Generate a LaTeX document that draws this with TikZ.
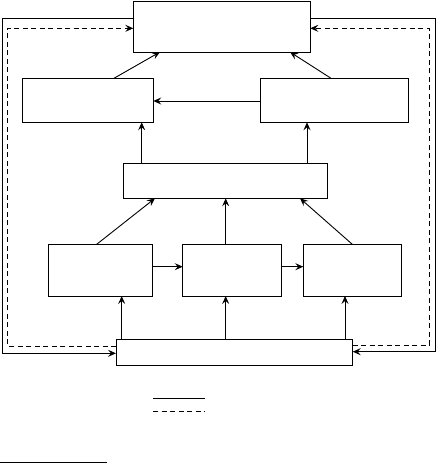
\documentclass[tikz,border=0pt]{standalone}
\usetikzlibrary{arrows.meta}
\begin{document}
\begin{tikzpicture}[x=1pt,y=-1pt,
  box/.style={draw,line width=0.9pt,inner sep=0pt,outer sep=0pt,anchor=north west},
  arr/.style={line width=0.9pt,-{Stealth[length=8pt,width=7pt,inset=3pt]}},
  ln/.style={line width=0.9pt},
  dsh/.style={line width=0.9pt,dash pattern=on 5pt off 3.5pt}]
\useasboundingbox (0,0) rectangle (437,463);
% boxes
\node[box,minimum width=177pt,minimum height=51pt] (top) at (133.3,1) {};
\node[box,minimum width=131.3pt,minimum height=44pt] (lm) at (22,78.3) {};
\node[box,minimum width=148.3pt,minimum height=44pt] (rm) at (260,78.3) {};
\node[box,minimum width=204.4pt,minimum height=35pt] (mid) at (123.3,163.3) {};
\node[box,minimum width=104pt,minimum height=51.7pt] (a) at (48.7,244.3) {};
\node[box,minimum width=99pt,minimum height=51.7pt] (b) at (182.7,244.3) {};
\node[box,minimum width=98.4pt,minimum height=51.7pt] (c) at (303.3,244.3) {};
\node[box,minimum width=236.7pt,minimum height=26.4pt] (bot) at (116,339.3) {};
% arrows upper
\draw[arr] (114,0 |- lm.north) -- (160,0 |- top.south);
\draw[arr] (331,0 |- rm.north) -- (290,0 |- top.south);
\draw[arr] (rm.west |- 0,101) -- (lm.east |- 0,101);
\draw[arr] (141.7,0 |- mid.north) -- (141.7,0 |- lm.south);
\draw[arr] (307,0 |- mid.north) -- (307,0 |- rm.south);
% arrows to mid
\draw[arr] (96.7,0 |- a.north) -- (155,0 |- mid.south);
\draw[arr] (225.7,0 |- b.north) -- (225.7,0 |- mid.south);
\draw[arr] (352.3,0 |- c.north) -- (300,0 |- mid.south);
% horizontal bottom row
\draw[arr] (a.east |- 0,266.7) -- (b.west |- 0,266.7);
\draw[arr] (b.east |- 0,266.7) -- (c.west |- 0,266.7);
% from bottom box
\draw[arr] (121.7,0 |- bot.north) -- (121.7,0 |- a.south);
\draw[arr] (225.7,0 |- bot.north) -- (225.7,0 |- b.south);
\draw[arr] (345,0 |- bot.north) -- (345,0 |- c.south);
% solid feedback loops
\draw[arr] (top.west |- 0,18.3) -- (2.7,18.3) -- (2.7,353.3) -- (bot.west |- 0,353.3);
\draw[arr] (top.east |- 0,18.3) -- (435.8,18.3) -- (435.8,351.7) -- (bot.east |- 0,351.7);
% dashed feedback loops
\draw[dsh,-{Stealth[length=8pt,width=7pt,inset=3pt]}] (bot.west |- 0,346) -- (7.3,346) -- (7.3,28.3) -- (top.west |- 0,28.3);
\draw[dsh,-{Stealth[length=8pt,width=7pt,inset=3pt]}] (bot.east |- 0,345) -- (429.3,345) -- (429.3,28.3) -- (top.east |- 0,28.3);
% legend
\draw[ln] (153.3,398.3) -- (205,398.3);
\draw[dsh] (153.3,411) -- (205,411);
\draw[ln] (0,462.3) -- (107.3,462.3);
\end{tikzpicture}
\end{document}
